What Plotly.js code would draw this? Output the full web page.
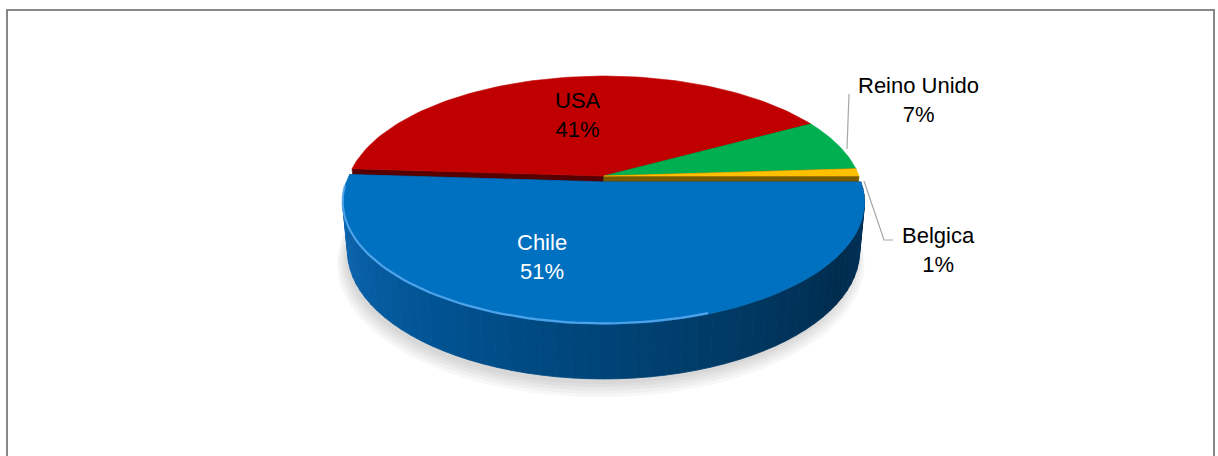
<!DOCTYPE html>
<html><head><meta charset="utf-8">
<script src="https://cdn.plot.ly/plotly-3.0.1.min.js"></script>
<style>html,body{margin:0;padding:0;background:#fff;overflow:hidden}</style>
</head><body><div id="chart" style="width:1218px;height:456px"></div>
<script>
// ---- data ----
const categories = ['Chile', 'USA', 'Reino Unido', 'Belgica'];
const values = [51, 41, 7, 1];

// ---- styles ----
const topColors = ['#0070C0', '#C00000', '#00B050', '#FFC000'];
const faceColors = ['#003a66', '#560000', '#006a30', '#7a5a00'];
const labelColors = ['#ffffff', '#000000', '#000000', '#000000'];
const labelPos = [[542, 257], [578, 115], [918, 100], [938, 250]];
const explode = [0.05, 0, 0, 0];

// ---- view geometry (pixel space) ----
const V = {cx: 604, cy: 176, F: 1362, D: 5.34, phi: 27.2 * Math.PI / 180, h: 0.215};
const cphi = Math.cos(V.phi), sphi = Math.sin(V.phi);
function proj(X, Y, Z) {
  const dep = V.D + Y * cphi - Z * sphi;
  return [V.cx + V.F * X / dep, V.cy - V.F * (Y * sphi + Z * cphi) / dep];
}
const rad = d => d * Math.PI / 180;

const total = values.reduce((a, b) => a + b, 0);
const slices = [];
let cum = 0;
values.forEach((v, i) => {
  const tEnd = -cum * 360 / total;
  const tBeg = tEnd - v * 360 / total;
  cum += v;
  const mid = rad((tBeg + tEnd) / 2);
  slices.push({i, tBeg, tEnd, ox: explode[i] * Math.cos(mid), oy: explode[i] * Math.sin(mid)});
});

const traces = [];
function poly(pts, color, lw) {
  const xs = pts.map(p => p[0]), ys = pts.map(p => p[1]);
  xs.push(xs[0]); ys.push(ys[0]);
  traces.push({type: 'scatter', mode: 'lines', x: xs, y: ys, fill: 'toself',
    fillcolor: color, line: {color: color, width: lw === undefined ? 0.6 : lw},
    hoverinfo: 'skip', showlegend: false});
}
function rim(s, t, Z) { return proj(Math.cos(rad(t)) + s.ox, Math.sin(rad(t)) + s.oy, Z); }
function arc(s, a, b, Z, n) {
  const pts = [];
  for (let k = 0; k <= n; k++) pts.push(rim(s, a + (b - a) * k / n, Z));
  return pts;
}

// soft shadow under the pie
for (let k = 4; k >= 0; k--) {
  const sc = 0.995 + 0.006 * k;
  const pts = [];
  for (let j = 0; j <= 120; j++) {
    const t = rad(j * 3);
    pts.push(proj(sc * Math.cos(t) - 0.012, sc * Math.sin(t) - 0.07 - 0.012 * k, -V.h - 0.01));
  }
  poly(pts, 'rgba(0,0,0,0.03)', 0);
}

function lerpColor(f) {
  const stops = [[0, [20, 108, 186]], [0.3, [0, 84, 148]], [0.6, [0, 60, 105]], [0.82, [0, 44, 78]], [1, [0, 50, 90]]];
  for (let k = 0; k < stops.length - 1; k++) {
    const [f0, c0] = stops[k], [f1, c1] = stops[k + 1];
    if (f <= f1) {
      const u = (f - f0) / (f1 - f0);
      return 'rgb(' + c0.map((c, j) => Math.round(c + (c1[j] - c) * u)).join(',') + ')';
    }
  }
  return 'rgb(0,50,90)';
}

// draw back to front: USA, Reino Unido, Belgica, Chile
const order = [1, 2, 3, 0];
order.forEach(idx => {
  const s = slices[idx];
  const apexT = proj(s.ox, s.oy, 0), apexB = proj(s.ox, s.oy, -V.h);
  // radial faces
  [s.tBeg, s.tEnd].forEach(t => {
    poly([apexT, rim(s, t, 0), rim(s, t, -V.h), apexB], faceColors[idx]);
  });
  // outer front wall (sin t < 0 part)
  for (let sh = -720; sh <= 720; sh += 360) {
    const a = Math.max(s.tBeg, -180 + sh), b = Math.min(s.tEnd, 0 + sh);
    if (b > a) {
      const nseg = Math.max(1, Math.ceil((b - a) / 3));
      for (let k = 0; k < nseg; k++) {
        const t0 = a + (b - a) * k / nseg, t1 = a + (b - a) * (k + 1) / nseg;
        const f = ((t0 + t1) / 2 - (-180 + sh)) / 180;
        const col = idx === 0 ? lerpColor(f) : faceColors[idx];
        const top = arc(s, t0, t1, 0, 3), bot = arc(s, t1, t0, -V.h, 3);
        poly(top.concat(bot), col, 0.8);
      }
    }
  }
  // top face
  poly([apexT].concat(arc(s, s.tBeg, s.tEnd, 0, 90)), topColors[idx]);
  if (idx === 0) {
    // bevel highlight on front rim
    const hl = arc(s, -178, -70, 0, 60);
    traces.push({type: 'scatter', mode: 'lines', x: hl.map(p => p[0]), y: hl.map(p => p[1] - 1),
      line: {color: 'rgba(90,170,240,0.85)', width: 2.2}, hoverinfo: 'skip', showlegend: false});
  }
});

const annotations = categories.map((c, i) => ({
  x: labelPos[i][0], y: labelPos[i][1], xref: 'x', yref: 'y',
  text: c + '<br>' + Math.round(values[i] / total * 100) + '%',
  showarrow: false, align: 'center', xanchor: 'center', yanchor: 'middle',
  font: {family: 'Liberation Sans, Arial, sans-serif', size: 22, color: labelColors[i]}
}));

const layout = {
  width: 1218, height: 456,
  margin: {l: 0, r: 0, t: 0, b: 0, pad: 0},
  paper_bgcolor: '#ffffff', plot_bgcolor: '#ffffff',
  xaxis: {range: [0, 1218], visible: false, fixedrange: true},
  yaxis: {range: [456, 0], visible: false, fixedrange: true},
  showlegend: false,
  annotations: annotations,
  shapes: [
    {type: 'rect', xref: 'x', yref: 'y', x0: 7, x1: 1214, y0: 10, y1: 480,
      line: {color: '#878787', width: 2}, fillcolor: 'rgba(0,0,0,0)'},
    {type: 'path', xref: 'x', yref: 'y', path: 'M 847 149 L 849 94',
      line: {color: '#a6a6a6', width: 1.2}},
    {type: 'path', xref: 'x', yref: 'y', path: 'M 864 181 L 884 240 L 893 240',
      line: {color: '#a6a6a6', width: 1.2}}
  ]
};

Plotly.newPlot('chart', traces, layout, {staticPlot: true, displayModeBar: false});
</script>
</body></html>
